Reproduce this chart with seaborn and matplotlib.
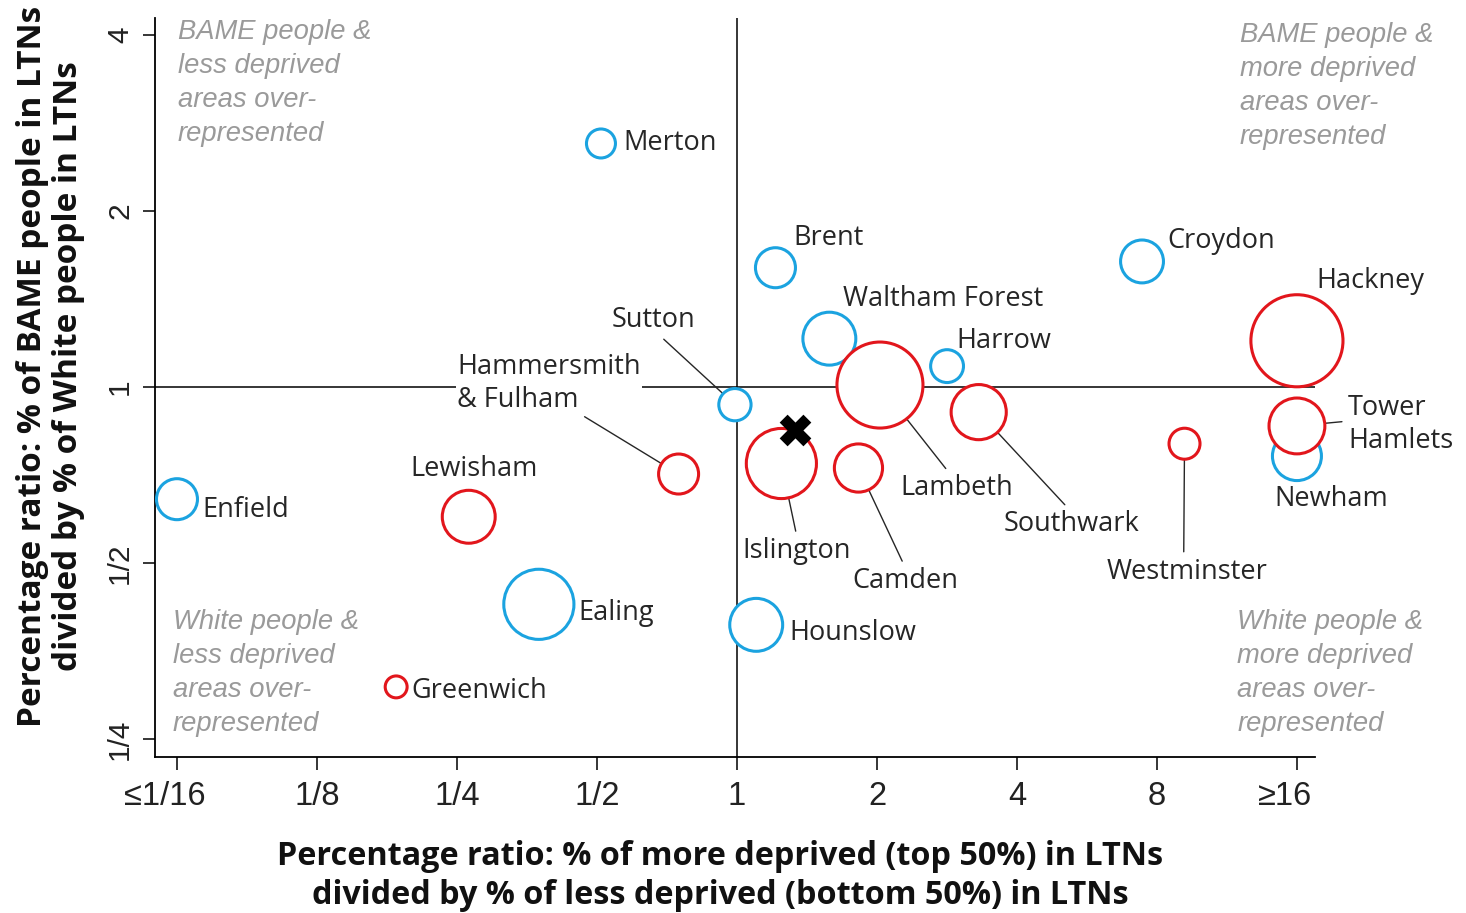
import numpy as np
import pandas as pd
import matplotlib
matplotlib.use("Agg")
import matplotlib.pyplot as plt
import matplotlib.transforms as mtransforms
import seaborn as sns

# ---------------- data ----------------
boroughs = ["Merton", "Brent", "Croydon", "Waltham Forest", "Harrow", "Sutton",
            "Newham", "Enfield", "Ealing", "Hounslow",
            "Hackney", "Lambeth", "Southwark", "Tower Hamlets", "Westminster",
            "Islington", "Camden", "Hammersmith & Fulham", "Lewisham", "Greenwich"]
group = ["Outer"] * 10 + ["Inner"] * 10
deprived_ratio = [0.51, 1.21, 7.43, 1.58, 2.83, 0.99, 16, 0.0625, 0.375, 1.10,
                  16, 2.03, 3.31, 16, 9.17, 1.246, 1.825, 0.749, 0.265, 0.185]
bame_ratio = [2.61, 1.60, 1.64, 1.21, 1.086, 0.933, 0.762, 0.643, 0.425, 0.392,
              1.20, 1.008, 0.906, 0.858, 0.80, 0.74, 0.727, 0.71, 0.60, 0.307]
ltn_size = [2.1, 4.0, 4.6, 7.0, 2.7, 2.6, 6.0, 4.2, 12.3, 7.0,
            21.2, 18.5, 7.6, 7.8, 2.4, 12.3, 5.8, 4.0, 7.0, 1.2]
london_deprived = [1.33]
london_bame = [0.844]

x_ticks = [1/16, 1/8, 1/4, 1/2, 1, 2, 4, 8, 16]
x_ticklabels = ["≤1/16", "1/8", "1/4", "1/2", "1", "2", "4", "8", "≥16"]
y_ticks = [1/4, 1/2, 1, 2, 4]
y_ticklabels = ["1/4", "1/2", "1", "2", "4"]

label_text = ["Merton", "Brent", "Croydon", "Waltham Forest", "Harrow", "Sutton",
              "Newham", "Enfield", "Ealing", "Hounslow",
              "Hackney", "Lambeth", "Southwark", "Tower\nHamlets", "Westminster",
              "Islington", "Camden", "Hammersmith\n& Fulham", "Lewisham", "Greenwich"]
label_x = [0.571, 1.32, 8.41, 1.69, 2.96, 0.663, 14.28, 0.0707, 0.455, 1.294,
           17.6, 2.97, 5.23, 20.6, 9.28, 1.346, 2.297, 0.25, 0.272, 0.199]
label_y = [2.62, 1.80, 1.78, 1.414, 1.20, 1.302, 0.643, 0.616, 0.411, 0.38,
           1.52, 0.672, 0.583, 0.864, 0.483, 0.524, 0.466, 1.015, 0.724, 0.302]
label_ha = ["left", "left", "left", "left", "left", "center", "left", "left", "left", "left",
            "left", "center", "center", "left", "center", "center", "center", "left", "center", "left"]
leader_relpos = [None, None, None, None, None, (0.55, 0.0), None, None, None, None,
                 None, (0.44, 1.0), (0.49, 1.0), (0.0, 0.55), (0.48, 1.0),
                 (0.5, 1.0), (0.5, 1.0), (0.67, 0.0), None, None]

quadrant_text = ["BAME people &\nless deprived\nareas over-\nrepresented",
                 "BAME people &\nmore deprived\nareas over-\nrepresented",
                 "White people &\nless deprived\nareas over-\nrepresented",
                 "White people &\nmore deprived\nareas over-\nrepresented"]

df = pd.DataFrame({"borough": boroughs, "group": group, "deprived": deprived_ratio,
                   "bame": bame_ratio, "size": ltn_size})

BLUE = "#1ba3e0"
RED = "#e2161c"
PX = 0.72  # points per pixel at dpi 100

# ---------------- figure ----------------
sns.set_style("white")
plt.rcParams["font.family"] = ["Liberation Sans", "DejaVu Sans"]

fig = plt.figure(figsize=(14.66, 9.13), dpi=100)
ax = fig.add_axes([155 / 1466, 1 - 757 / 913, 1160 / 1466, 739 / 913])

ax.set_xscale("log", base=2)
ax.set_yscale("log", base=2)
ax.set_xlim(2 ** -4.157, 2 ** 4.129)
ax.set_ylim(2 ** -2.102, 2 ** 2.097)

ax.axhline(1, color="black", lw=1.1, zorder=1)
ax.axvline(1, color="black", lw=1.1, zorder=1)

max_area = (2 * PX) ** 2 * 100 * 25
sns.scatterplot(data=df, x="deprived", y="bame", hue="group",
                palette={"Outer": BLUE, "Inner": RED}, size="size",
                sizes=(0, max_area), size_norm=(0, 25), legend=False,
                linewidth=2.2, ax=ax, zorder=3, clip_on=False)
coll = ax.collections[-1]
fc = coll.get_facecolors()
coll.set_edgecolors(fc)
coll.set_facecolors("white")
coll.set_clip_on(False)

sns.scatterplot(x=london_deprived, y=london_bame, marker="X", s=520,
                color="black", linewidth=0, ax=ax, zorder=4)

# labels
label_font = dict(family=["Open Sans", "DejaVu Sans"], fontsize=19.5, color="#262626")
for i in range(len(df)):
    rp = leader_relpos[i]
    if rp is None:
        ax.text(label_x[i], label_y[i], label_text[i], ha=label_ha[i], va="center",
                linespacing=1.25, zorder=2, **label_font)
    else:
        kw = {}
        if df["borough"][i] == "Hammersmith & Fulham":
            kw["bbox"] = dict(facecolor="white", edgecolor="none", pad=1)
        ax.annotate(label_text[i], xy=(df["deprived"][i], df["bame"][i]),
                    xytext=(label_x[i], label_y[i]), textcoords="data",
                    ha=label_ha[i], va="center", linespacing=1.25, zorder=2,
                    arrowprops=dict(arrowstyle="-", color="#262626", lw=1.0,
                                    shrinkA=2, shrinkB=0, relpos=rp),
                    **label_font, **kw)

# quadrant notes
qfont = dict(family=["Liberation Sans", "DejaVu Sans"], style="italic",
             fontsize=19.7, color="#9a9a9a", linespacing=1.40)
ax.text(0.0198, 0.999, quadrant_text[0], transform=ax.transAxes, ha="left", va="top", **qfont)
ax.text(0.935, 0.995, quadrant_text[1], transform=ax.transAxes, ha="left", va="top", **qfont)
ax.text(0.0155, 0.027, quadrant_text[2], transform=ax.transAxes, ha="left", va="bottom", **qfont)
ax.text(0.933, 0.027, quadrant_text[3], transform=ax.transAxes, ha="left", va="bottom", **qfont)

# axes styling
for s in ["top", "right"]:
    ax.spines[s].set_visible(False)
for s in ["left", "bottom"]:
    ax.spines[s].set_color("black")
    ax.spines[s].set_linewidth(1.3)

ax.set_xticks(x_ticks)
ax.set_xticklabels(x_ticklabels)
ax.set_yticks(y_ticks)
ax.set_yticklabels(y_ticklabels)
ax.minorticks_off()
ax.tick_params(axis="x", length=9, width=1.1, pad=8, labelsize=23.5, colors="black",
               labelcolor="#222222", bottom=True)
ax.tick_params(axis="y", length=9, width=1.1, pad=6, labelsize=21.5, colors="black",
               labelcolor="#222222", labelrotation=90, left=True)
for t in ax.get_yticklabels():
    t.set_va("center")

# the clamped end labels sit slightly left of their ticks
shift = mtransforms.ScaledTranslation(-12 / 100, 0, fig.dpi_scale_trans)
xt = ax.get_xticklabels()
for t in (xt[0], xt[-1]):
    t.set_transform(t.get_transform() + shift)

ax.set_xlabel("Percentage ratio: % of more deprived (top 50%) in LTNs\n"
              "divided by % of less deprived (bottom 50%) in LTNs",
              ha="center", va="center", family=["Open Sans", "DejaVu Sans"],
              fontweight="bold", fontsize=23.3, color="#111111", linespacing=1.26)
ax.xaxis.set_label_coords(0.487, -0.161)
ax.set_ylabel("Percentage ratio: % of BAME people in LTNs\n"
              "divided by % of White people in LTNs",
              ha="center", va="center", family=["Open Sans", "DejaVu Sans"],
              fontweight="bold", fontsize=24, color="#111111", linespacing=1.15)
ax.yaxis.set_label_coords(-0.0900, 0.529)

fig.savefig("out.png", dpi=100, facecolor="white")
